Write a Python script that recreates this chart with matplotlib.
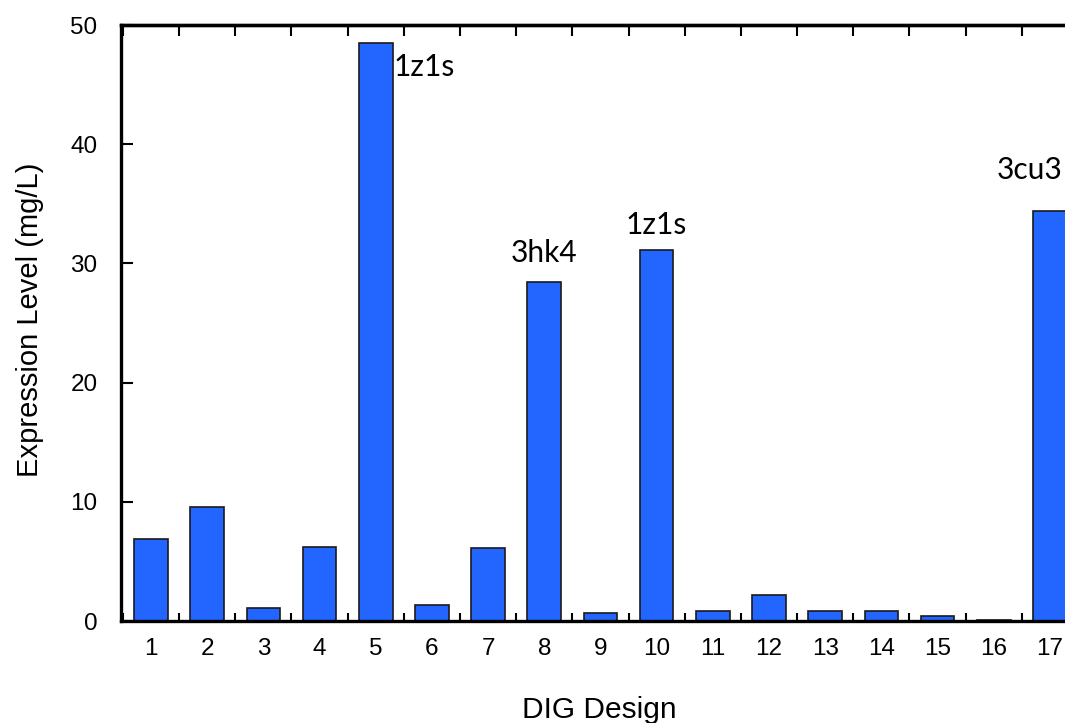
import matplotlib.pyplot as plt
from matplotlib.ticker import FixedLocator

designs = list(range(1, 18))
expression = [6.9, 9.55, 1.1, 6.2, 48.5, 1.35, 6.1, 28.4, 0.65, 31.1,
              0.8, 2.2, 0.8, 0.8, 0.4, 0.05, 34.4]
scaffold_labels = {5: '1z1s', 8: '3hk4', 10: '1z1s', 17: '3cu3'}

fig = plt.figure(figsize=(10.65, 7.23), dpi=100)
# axes run past the right edge of the figure, so the last bar is cut off
ax = fig.add_axes([121 / 1065, 102 / 723, 957 / 1065, 596 / 723])

ax.bar(designs, expression, width=0.6, color='#2266ff',
       edgecolor='#1a1a1a', linewidth=1.2, zorder=2)

ax.set_xlim(0.466, 17.5)
ax.set_ylim(0, 50)

for s in ax.spines.values():
    s.set_linewidth(2.4)

tick_font = {'family': ['Liberation Sans', 'DejaVu Sans'], 'size': 17.5}
ax.set_xticks(designs)
ax.set_xticklabels([str(d) for d in designs], fontdict=tick_font)
ax.set_yticks(range(0, 51, 10))
ax.set_yticklabels([str(v) for v in range(0, 51, 10)], fontdict=tick_font)

halves = [d + 0.5 for d in range(0, 18)]
ax.xaxis.set_minor_locator(FixedLocator(halves))
ax.tick_params(axis='x', which='major', length=0, pad=12)
ax.tick_params(axis='x', which='minor', direction='in', length=6,
               width=1.5, bottom=True)
ax.tick_params(axis='y', which='major', direction='in', length=8.5,
               width=1.5, pad=17)

top = ax.secondary_xaxis('top')
top.set_xticks(halves)
top.set_xticklabels([])
top.tick_params(direction='in', length=8, width=1.5)
top.spines['top'].set_linewidth(2.4)

ax.set_xlabel('DIG Design', fontsize=21.5, family=['Liberation Sans'])
ax.xaxis.label.set_va('center')
ax.xaxis.set_label_coords(0.5, -0.149)
ax.set_ylabel('Expression Level (mg/L)', fontsize=21,
              family=['Liberation Sans'])
ax.yaxis.label.set_va('center')
ax.yaxis.set_label_coords(-0.095, 0.505)

lab_font = dict(fontsize=21.5, family=['Lato', 'DejaVu Sans'])
ax.text(5.31, expression[4] - 2.0, scaffold_labels[5], ha='left',
        va='center', **lab_font)
ax.text(8, expression[7] + 2.5, scaffold_labels[8], ha='center',
        va='center', **lab_font)
ax.text(10, expression[9] + 2.1, scaffold_labels[10], ha='center',
        va='center', **lab_font)
ax.text(16.64, expression[16] + 3.4, scaffold_labels[17], ha='center',
        va='center', **lab_font)

fig.savefig('out.png', dpi=100)
